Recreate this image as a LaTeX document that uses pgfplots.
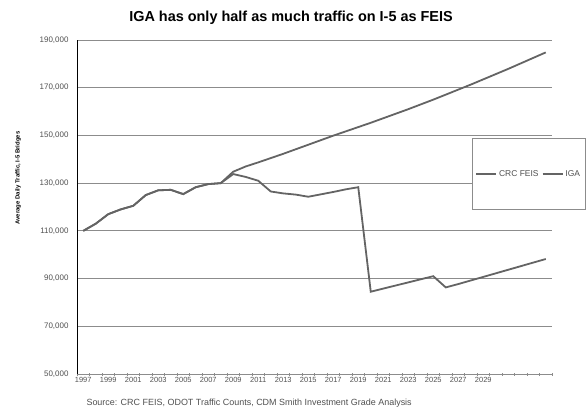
\documentclass[border=0pt]{standalone}
\usepackage{fontspec}
\setmainfont{Liberation Sans}
\usepackage{pgfplots}
\pgfplotsset{compat=1.18}
\definecolor{lineg}{RGB}{100,100,100}
\definecolor{gridg}{RGB}{140,140,140}
\definecolor{textg}{RGB}{80,80,80}
\begin{document}
\begin{tikzpicture}[x=1bp,y=1bp]
\useasboundingbox (0,0) rectangle (587,409);
\begin{axis}[
  at={(77bp,35bp)}, anchor=south west,
  scale only axis, width=475bp, height=334bp,
  xmin=1996.5, xmax=2034.5, ymin=50000, ymax=190000,
  scaled y ticks=false, scaled x ticks=false,
  axis x line*=bottom, axis y line*=left,
  x axis line style={gridg, line width=0.8pt, -},
  y axis line style={black, line width=1pt, -},
  ytick={50000,70000,90000,110000,130000,150000,170000,190000},
  yticklabels={{50,000},{70,000},{90,000},{110,000},{130,000},{150,000},{170,000},{190,000}},
  ymajorgrids, grid style={gridg, line width=0.8pt},
  xtick={1997,1999,2001,2003,2005,2007,2009,2011,2013,2015,2017,2019,2021,2023,2025,2027,2029},
  xticklabels={1997,1999,2001,2003,2005,2007,2009,2011,2013,2015,2017,2019,2021,2023,2025,2027,2029},
  minor xtick={1996.5,1997.5,...,2034.5},
  major tick length=0pt, minor tick length=3bp,
  minor tick style={gridg, line width=0.6pt},
  tick align=center,
  xticklabel style={font=\fontsize{7.5}{8}\selectfont, text=textg, yshift=0bp},
  yticklabel style={font=\fontsize{8}{9}\selectfont, text=textg, xshift=-5bp},
  legend style={at={(0.8316,0.7066)}, anchor=north west, draw=gridg, line width=0.6pt,
    fill=white, font=\fontsize{8.5}{9}\selectfont, text=textg,
    inner xsep=3bp, inner ysep=30bp,
    /tikz/every even column/.style={column sep=1bp}},
  legend columns=2,
  legend image code/.code={\draw[#1, line width=1.8bp] (0bp,0bp) -- (20bp,0bp);},
]
\addplot[lineg, line width=1.8bp] coordinates {
(1997,110000) (1998,113000) (1999,117000) (2000,119000) (2001,120500)
(2002,125000) (2003,127000) (2004,127200) (2005,125400) (2006,128300)
(2007,129600) (2008,130000) (2009,134800) (2010,137000) (2011,138700)
(2012,140500) (2013,142300) (2014,144200) (2015,146100) (2016,148000)
(2017,149900) (2018,151700) (2019,153500) (2020,155300) (2021,157200)
(2022,159100) (2023,161000) (2024,163000) (2025,165000) (2026,167100)
(2027,169200) (2028,171300) (2029,173500) (2030,175700) (2031,177900)
(2032,180200) (2033,182500) (2034,184800)
};
\addlegendentry{CRC FEIS}
\addplot[lineg, line width=1.8bp] coordinates {
(1997,110000) (1998,113000) (1999,117000) (2000,119000) (2001,120500)
(2002,125000) (2003,127000) (2004,127200) (2005,125400) (2006,128300)
(2007,129600) (2008,130000) (2009,133800) (2010,132600) (2011,131000)
(2012,126500) (2013,125700) (2014,125200) (2015,124300) (2016,125300)
(2017,126300) (2018,127400) (2019,128300) (2020,84500) (2021,85800)
(2022,87100) (2023,88400) (2024,89700) (2025,91000) (2026,86300)
(2027,87700) (2028,89200) (2029,90700) (2030,92200) (2031,93700)
(2032,95200) (2033,96700) (2034,98200)
};
\addlegendentry{IGA}
\end{axis}
\node[font=\bfseries\fontsize{14.5}{16}\selectfont] at (291,391) {IGA has only half as much traffic on I-5 as FEIS};
\node[rotate=90, font=\bfseries\fontsize{6}{7}\selectfont] at (18,231) {Average Daily Traffic, I-5 Bridges};
\node[anchor=west, font=\fontsize{9}{10}\selectfont, text=textg] at (83,6) {Source: CRC FEIS, ODOT Traffic Counts, CDM Smith Investment Grade Analysis};
\end{tikzpicture}
\end{document}
